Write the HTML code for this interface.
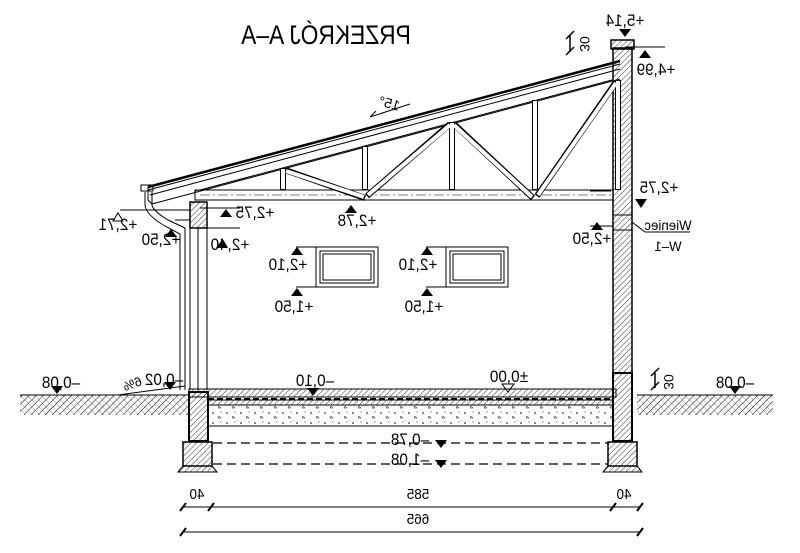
<!DOCTYPE html>
<html><head><meta charset="utf-8"><style>
html,body{margin:0;padding:0;background:#fff;}
svg{display:block;}
text{font-family:"Liberation Sans",sans-serif;fill:#000;}
</style></head><body>
<svg width="800" height="553" viewBox="0 0 800 553" xmlns="http://www.w3.org/2000/svg">
<defs>
<pattern id="h" patternUnits="userSpaceOnUse" width="4" height="4" patternTransform="rotate(45)">
<line x1="0" y1="0" x2="0" y2="4" stroke="#000" stroke-width="0.8"/></pattern>
<pattern id="g" patternUnits="userSpaceOnUse" width="5" height="5" patternTransform="rotate(45)">
<line x1="0" y1="0" x2="0" y2="5" stroke="#000" stroke-width="1"/><line x1="0" y1="0" x2="5" y2="0" stroke="#555" stroke-width="0.6"/></pattern>
<pattern id="gr" patternUnits="userSpaceOnUse" width="14" height="10">
<circle cx="3" cy="3" r="0.8" fill="#000"/><path d="M9 6 l2 2 h-3z" fill="none" stroke="#000" stroke-width="0.5"/><circle cx="11" cy="2" r="0.5" fill="#000"/></pattern>
</defs>
<g fill="none" stroke="#000" stroke-width="1">
<rect x="20" y="395" width="170" height="20" fill="url(#g)" stroke="none"/>
<rect x="637" y="395" width="136" height="20" fill="url(#g)" stroke="none"/>
<line x1="20" y1="395" x2="190" y2="395"/><line x1="637" y1="395" x2="773" y2="395"/>
<path d="M118 395 L185 386" />
<rect x="613" y="48" width="19" height="325" fill="url(#h)" stroke-width="1.5"/>
<rect x="611" y="40" width="23" height="9" fill="url(#h)" stroke-width="1.5"/>
<line x1="613" y1="215" x2="632" y2="215"/>
<line x1="613" y1="230" x2="632" y2="230"/>
<rect x="613" y="373" width="19" height="68" fill="url(#h)" stroke-width="2"/>
<rect x="608" y="442" width="29" height="24" fill="url(#h)" stroke-width="1.5"/>
<path d="M608 466 L603 472 L642 472 L637 466" fill="url(#h)"/>
<rect x="190" y="202" width="17" height="26" fill="url(#h)" stroke-width="1.5"/>
<line x1="190" y1="228" x2="190" y2="390"/><line x1="198" y1="228" x2="198" y2="390"/><line x1="207" y1="228" x2="207" y2="390"/>
<rect x="189" y="392" width="19" height="49" fill="url(#h)" stroke-width="2"/>
<rect x="183" y="442" width="29" height="24" fill="url(#h)" stroke-width="1.5"/>
<path d="M183 466 L178 472 L217 472 L212 466" fill="url(#h)"/>
<rect x="141" y="185" width="12" height="6"/>
<path d="M145 192 L145 205 Q146 215 165 226 L180 234 L180 390 M152 192 L152 205 Q153 211 168 220 L185 228 L185 390"/>
<rect x="189" y="389" width="427" height="8" fill="url(#h)"/>
<line x1="208" y1="399" x2="613" y2="399" stroke-width="2" stroke-dasharray="6 3"/>
<rect x="208" y="400" width="405" height="5" fill="url(#h)"/>
<rect x="208" y="405" width="405" height="21" fill="url(#gr)"/>
<line x1="208" y1="426" x2="613" y2="426"/>
<line x1="213" y1="443" x2="608" y2="443" stroke-dasharray="9 5" stroke-width="1.2"/>
<line x1="213" y1="464" x2="608" y2="464" stroke-dasharray="9 5" stroke-width="1.2"/>
<path d="M148 187 L620 61" stroke-width="2.5"/>
<path d="M148 190 L620 64 M150 195 L620 69 M152 204 L620 79" />
<path d="M148 187 L148 200 L152 204"/>
<path d="M195 192 Q195 190 200 190 L612 80"/>
<rect x="195" y="190" width="418" height="10"/>
<line x1="200" y1="195" x2="612" y2="195" stroke-dasharray="10 3 2 3" stroke-width="0.6"/>
</g>
<g stroke="#000" stroke-width="6" fill="none" stroke-linecap="butt">
<path d="M283 168 L283 190 M365 146 L365 190 M452 122 L452 190 M535 100 L535 190 M618 80 L618 190"/>
<path d="M285 170 L365 198 M367 196 L450 124 M454 124 L533 198 M537 196 L616 82"/>
</g>
<g stroke="#fff" stroke-width="4" fill="none">
<path d="M283 169 L283 189 M365 147 L365 189 M452 123 L452 189 M535 101 L535 189 M618 81 L618 189"/>
<path d="M286 171 L364 197 M368 195 L450 125 M454 125 L532 197 M538 195 L616 83"/>
</g>
<g fill="none" stroke="#000" stroke-width="1">
<rect x="316" y="247" width="62" height="40"/><rect x="320" y="251" width="54" height="32"/><rect x="323" y="254" width="48" height="26"/>
<rect x="446" y="247" width="62" height="40"/><rect x="450" y="251" width="54" height="32"/><rect x="453" y="254" width="48" height="26"/>
<path d="M200 208 L240 208 M200 228 L240 228 M175 220 L190 220 M120 210 L190 210 M590 226 L613 226 M590 191 L611 191 M625 47 L665 47"/>
<path d="M645 232 L690 232 M632 222 L645 232"/>
<path d="M296 247 L316 247 M296 287 L316 287 M426 247 L446 247 M426 287 L446 287"/>
<line x1="183" y1="507" x2="640" y2="507"/>
<line x1="183" y1="532" x2="640" y2="532"/>
<path d="M180 511 L186 503 M208 511 L214 503 M610 511 L616 503 M637 511 L643 503 M180 536 L186 528 M637 536 L643 528" stroke-width="2"/>
<path d="M566 55 L574 47 M566 39 L574 31 M570 35 L570 52 M651 390 L659 382 M651 376 L659 368 M655 373 L655 388" stroke-width="1.5"/>
<path d="M370 117 L410 104 M370 117 L376 111"/>
</g>
<g fill="#000">
<path d="M619 29 L631 29 L625 37z"/>
<path d="M639 58 L651 58 L645 50z"/>
<path d="M635 199 L647 199 L641 208z"/>
<path d="M220 217 L232 217 L226 209z"/>
<path d="M345 213 L357 213 L351 205z"/>
<path d="M165 237 L177 237 L171 229z"/>
<path d="M216 248 L228 248 L222 240z"/>
<path d="M591 230 L603 230 L597 222z"/>
<path d="M291 255 L303 255 L297 247z"/><path d="M421 255 L433 255 L427 247z"/>
<path d="M291 296 L303 296 L297 288z"/><path d="M421 296 L433 296 L427 288z"/>
<path d="M51 386 L63 386 L57 394z"/><path d="M729 386 L741 386 L735 394z"/>
<path d="M164 382 L176 382 L170 390z"/>
<path d="M307 388 L319 388 L313 396z"/>
<path d="M435 440 L447 440 L441 448z"/><path d="M435 460 L447 460 L441 468z"/>
</g>
<g fill="none" stroke="#000"><path d="M113 221 L123 221 L118 213z"/><path d="M502 384 L514 384 L508 392z"/></g>
<g font-size="17">
<text transform="translate(326,44) scale(-0.95,1.1)" text-anchor="middle" font-size="24">PRZEKRÓJ A–A</text>
<text transform="translate(625,26) scale(-0.9,1)" text-anchor="middle">+5,14</text>
<text transform="translate(656,75) scale(-0.9,1)" text-anchor="middle">+4,99</text>
<text transform="translate(388,108) rotate(15) scale(-1,1)" text-anchor="middle" font-size="14">15°</text>
<text transform="translate(659,193) scale(-0.9,1)" text-anchor="middle">+2,75</text>
<text transform="translate(255,218) scale(-0.9,1)" text-anchor="middle">+2,75</text>
<text transform="translate(357,226) scale(-0.9,1)" text-anchor="middle">+2,78</text>
<text transform="translate(118,230) scale(-0.9,1)" text-anchor="middle">+2,71</text>
<text transform="translate(161,245) scale(-0.9,1)" text-anchor="middle">+2,50</text>
<text transform="translate(230,250) scale(-0.9,1)" text-anchor="middle">+2,40</text>
<text transform="translate(592,244) scale(-0.9,1)" text-anchor="middle">+2,50</text>
<text transform="translate(668,230) scale(-0.95,1)" text-anchor="middle" font-size="14">Wieniec</text>
<text transform="translate(668,251) scale(-0.95,1)" text-anchor="middle" font-size="14">W–1</text>
<text transform="translate(288,270) scale(-0.9,1)" text-anchor="middle">+2,10</text>
<text transform="translate(418,270) scale(-0.9,1)" text-anchor="middle">+2,10</text>
<text transform="translate(294,312) scale(-0.9,1)" text-anchor="middle">+1,50</text>
<text transform="translate(424,312) scale(-0.9,1)" text-anchor="middle">+1,50</text>
<text transform="translate(61,388) scale(-0.9,1)" text-anchor="middle">–0,08</text>
<text transform="translate(735,388) scale(-0.9,1)" text-anchor="middle">–0,08</text>
<text transform="translate(164,385) scale(-0.9,1)" text-anchor="middle">–0,02</text>
<text transform="translate(134,388) rotate(-20) scale(-1,1)" text-anchor="middle" font-size="13">6%</text>
<text transform="translate(315,386) scale(-0.9,1)" text-anchor="middle">–0,10</text>
<text transform="translate(509,382) scale(-0.9,1)" text-anchor="middle">±0,00</text>
<text transform="translate(410,445) scale(-0.9,1)" text-anchor="middle">–0,78</text>
<text transform="translate(410,465) scale(-0.9,1)" text-anchor="middle">–1,08</text>
<text transform="translate(197,499) scale(-0.9,1)" text-anchor="middle" font-size="15">40</text>
<text transform="translate(418,499) scale(-0.9,1)" text-anchor="middle" font-size="15">585</text>
<text transform="translate(624,499) scale(-0.9,1)" text-anchor="middle" font-size="15">40</text>
<text transform="translate(418,524) scale(-0.9,1)" text-anchor="middle" font-size="15">665</text>
<text transform="translate(580,44) rotate(90) scale(-1,1)" text-anchor="middle" font-size="14">30</text>
<text transform="translate(664,382) rotate(90) scale(-1,1)" text-anchor="middle" font-size="14">30</text>
</g>
</svg>
</body></html>
